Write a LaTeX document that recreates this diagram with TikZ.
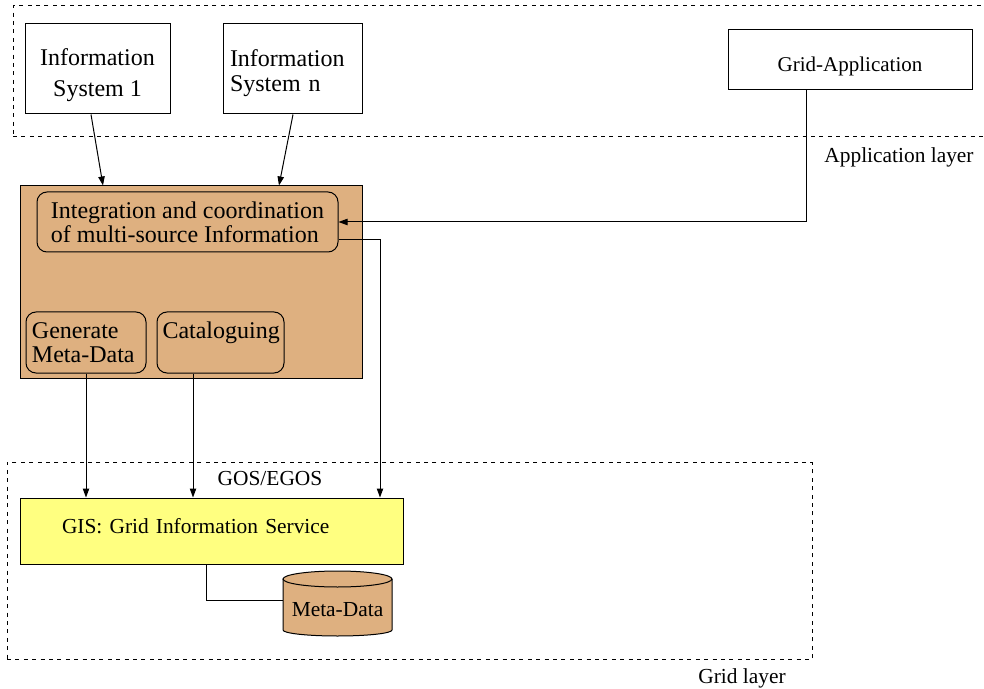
\documentclass[tikz,border=0pt]{standalone}
\usepackage{fontspec}
\setmainfont{Liberation Serif}
\usetikzlibrary{arrows.meta,calc}

\definecolor{tanfill}{RGB}{222,176,128}
\definecolor{gisyellow}{RGB}{255,255,128}

\tikzset{
  plainbox/.style={draw, line width=0.5pt, inner sep=0pt, font=\fontsize{12}{15.5}\selectfont},
  roundbox/.style={draw, line width=0.5pt, rounded corners=5pt, inner sep=0pt, font=\fontsize{12}{12}\selectfont},
  layerbox/.style={draw, line width=0.5pt, dash pattern=on 2pt off 2.2pt, inner sep=0pt},
  caption/.style={inner sep=0pt, font=\fontsize{10.7}{12}\selectfont},
  arr/.style={line width=0.5pt, -{Triangle[length=4.5pt,width=3.2pt]}},
  link/.style={line width=0.5pt},
}

\begin{document}
\begin{tikzpicture}[x=0.5pt,y=-0.5pt]
\useasboundingbox (0,0) rectangle (984,689);

% layers
\node[layerbox, minimum width=488.5pt, minimum height=65.5pt] (applayer) at (501.5,71.5) {};
\node[caption] (applabel) at (899,157) {Application layer};
\node[layerbox, minimum width=402.5pt, minimum height=98.5pt] (gridlayer) at (409.5,561) {};
\node[caption] (gridlabel) at (742,678) {Grid layer};
\node[caption] (goslabel) at (270,479) {GOS/EGOS};

% information sources (struts lower the text inside the boxes)
\node[plainbox, minimum width=72.5pt, minimum height=45pt, align=center] (is1) at (97.5,69)
  {\rule{0pt}{14.3pt}Information\\System 1};
\node[plainbox, minimum width=69.5pt, minimum height=45pt, align=left, text width=62.5pt,
  font=\fontsize{12}{12.5}\selectfont] (isn) at (292.5,69)
  {\rule{0pt}{12.3pt}Information\\System n};
\node[plainbox, minimum width=122pt, minimum height=30pt, font=\fontsize{10.5}{12}\selectfont]
  (gridapp) at (850,60) {\rule{0pt}{13.8pt}Grid-Application};

% integration block
\node[plainbox, fill=tanfill, minimum width=171pt, minimum height=96pt] (main) at (191,282) {};
\node[roundbox, minimum width=150.5pt, minimum height=30pt, align=left] (integ) at (187.5,222)
  {Integration and coordination\\of multi-source Information};
\node[roundbox, minimum width=60pt, minimum height=30.5pt, align=left, text width=54pt]
  (gen) at (86,342.5) {Generate\\Meta-Data};
\node[roundbox, minimum width=63.5pt, minimum height=30.5pt, align=left, text width=58pt]
  (cat) at (220.5,342.5) {Cataloguing\\\mbox{}};

% grid information service
\node[plainbox, fill=gisyellow, minimum width=191.5pt, minimum height=33pt, align=left,
  text width=149.5pt, font=\fontsize{10.7}{12}\selectfont] (gis) at (211.5,531)
  {GIS: Grid Information Service\rule[-5.3pt]{0pt}{5.3pt}};

% meta-data store
\fill[tanfill] (283,579) -- (283,630) arc[start angle=180, end angle=0, x radius=54.5, y radius=6]
  -- (392,579) arc[start angle=0, end angle=180, x radius=54.5, y radius=8] -- cycle;
\draw[link] (283,579) -- (283,630) arc[start angle=180, end angle=0, x radius=54.5, y radius=6]
  -- (392,579);
\draw[link, fill=tanfill] (337.5,579) ellipse[x radius=54.5, y radius=8];
\node[inner sep=0pt, minimum width=54.5pt, minimum height=20pt, font=\fontsize{10.7}{12}\selectfont]
  (meta) at (337.5,610) {Meta-Data};

% connectors
\draw[arr] ([xshift=-3.25pt]is1.south) -- ([xshift=-44pt]main.north);
\draw[arr] ([xshift=0.25pt]isn.south) -- ([xshift=44pt]main.north);
\draw[arr] ([xshift=-22pt]gridapp.south) |- (integ.east);
\draw[arr] ([yshift=-9pt]integ.east) -| ([xshift=84.25pt]gis.north);
\draw[arr] (gen.south) -- (gen.south |- gis.north);
\draw[arr] ([xshift=-13.75pt]cat.south) coordinate (catout) -- (catout |- gis.north);
\draw[link] ([xshift=-2.75pt]gis.south) |- ([yshift=5pt]meta.west);
\end{tikzpicture}
\end{document}
